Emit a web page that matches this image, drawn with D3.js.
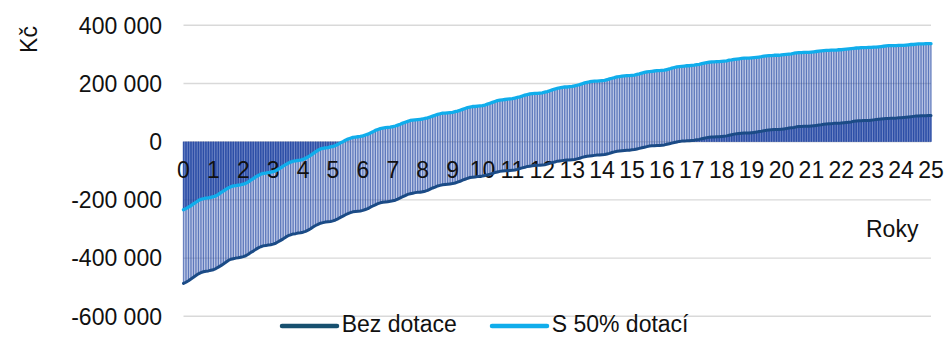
<!DOCTYPE html>
<html><head><meta charset="utf-8">
<script src="https://cdn.jsdelivr.net/npm/d3@7"></script>
<style>html,body{margin:0;padding:0;background:#fff;}svg{display:block;}</style>
</head><body>
<svg id="chart" width="947" height="337"></svg>
<script>
// Values in thousands of Kč, monthly points (year 0 .. year 25)
const UNIT = 1000;
const bezDotace = [
-487,-483,-478,-472,-466,-460,-454,-450,-447,-445,-444,-442,
-440,-436,-431,-426,-420,-414,-408,-404,-402,-400,-399,-397,
-395,-392,-387,-381,-376,-370,-365,-361,-358,-357,-355,-354,
-352,-349,-344,-339,-334,-328,-323,-320,-317,-316,-314,-313,
-311,-308,-304,-299,-293,-288,-284,-280,-278,-276,-275,-274,
-272,-269,-265,-260,-256,-251,-247,-244,-241,-240,-239,-238,
-236,-233,-230,-225,-221,-217,-213,-210,-208,-207,-206,-205,
-203,-201,-197,-193,-189,-185,-181,-179,-177,-175,-174,-174,
-172,-170,-167,-163,-159,-156,-152,-150,-148,-147,-146,-145,
-144,-142,-139,-136,-132,-129,-126,-123,-122,-121,-120,-119,
-118,-116,-114,-112,-109,-106,-104,-102,-101,-100,-100,-99,
-98,-97,-95,-92,-90,-88,-85,-84,-83,-82,-81,-81,
-80,-79,-77,-74,-72,-70,-67,-66,-65,-64,-63,-63,
-62,-61,-59,-57,-54,-52,-50,-49,-48,-47,-46,-46,
-45,-44,-42,-40,-37,-35,-33,-32,-31,-30,-29,-29,
-28,-27,-25,-23,-21,-19,-17,-15,-14,-14,-13,-13,
-12,-11,-9,-7,-5,-3,-1,1,2,2,3,3,
4,5,7,8,10,12,14,15,16,16,17,17,
18,19,20,22,24,26,27,28,29,30,30,30,
31,32,33,35,36,38,39,40,41,42,42,42,
43,44,45,47,48,49,51,52,52,53,53,53,
54,55,56,57,58,60,61,62,62,63,63,63,
64,65,66,67,68,70,71,72,72,73,73,73,
74,75,76,77,78,79,80,80,81,81,81,82,
82,83,84,85,86,87,88,88,89,89,89,90,
90];
const s50Dotaci = [
-234,-230,-225,-220,-214,-208,-202,-198,-196,-194,-193,-191,
-189,-186,-181,-175,-170,-164,-159,-155,-152,-151,-149,-148,
-146,-143,-138,-132,-127,-121,-116,-112,-109,-108,-106,-105,
-103,-100,-95,-90,-84,-79,-74,-70,-67,-66,-64,-63,
-61,-57,-52,-47,-41,-35,-29,-25,-23,-21,-20,-18,
-16,-13,-9,-4,0,5,9,12,15,16,17,18,
20,23,26,30,34,39,42,45,47,48,49,50,
52,54,57,60,64,67,70,73,74,75,76,77,
78,80,82,85,88,91,94,96,98,98,99,100,
101,103,105,108,111,114,117,119,121,121,122,123,
124,126,129,132,135,138,141,143,144,145,146,147,
148,150,152,154,157,160,162,164,165,166,166,167,
168,170,172,175,178,181,183,185,187,188,188,189,
190,192,194,196,199,202,204,206,207,208,208,209,
210,211,213,216,218,220,223,224,225,226,227,227,
228,229,231,233,236,238,240,241,242,243,244,244,
245,246,248,250,253,255,257,258,259,260,261,261,
262,263,265,266,268,270,272,273,274,274,275,275,
276,277,278,280,281,283,284,285,286,287,287,287,
288,289,290,291,292,294,295,296,296,297,297,297,
298,299,300,301,302,304,305,306,306,307,307,307,
308,309,310,311,312,313,314,314,315,315,315,316,
316,317,318,319,320,321,322,322,323,323,323,324,
324,325,325,326,327,328,329,330,330,330,330,331,
331,331,332,333,334,334,335,336,336,336,337,337,
337];
const roky = [0,1,2,3,4,5,6,7,8,9,10,11,12,13,14,15,16,17,18,19,20,21,22,23,24,25];
const yTicks = [-600000,-400000,-200000,0,200000,400000];
const seriesNames = ["Bez dotace","S 50% dotací"];
const seriesColors = ["#1b4b86","#10adeb"];
const legendColors = ["#17506f","#10adeb"];
const monthsPerYear = 12;

const FONT = "'Liberation Sans', Arial, sans-serif";
const svg = d3.select("#chart");
const x = d3.scaleLinear().domain([0, (roky.length-1)*monthsPerYear]).range([183.5, 931]);
const y = d3.scaleLinear().domain([-600000, 400000]).range([316.3, 25.3]);
const fmt = d3.formatLocale({decimal:",", thousands:"\u00a0", grouping:[3], currency:["",""], minus:"-"}).format(",");

// gridlines
svg.append("g").selectAll("line").data(yTicks).join("line")
  .attr("x1", x.range()[0]).attr("x2", x.range()[1])
  .attr("y1", d => y(d)).attr("y2", d => y(d))
  .attr("stroke", "#d9d9d9").attr("stroke-width", 1.4);

// y labels
svg.append("g").selectAll("text").data(yTicks).join("text")
  .attr("x", 162).attr("y", d => y(d) + 8.2)
  .attr("text-anchor", "end").attr("font-family", FONT).attr("font-size", 23).attr("fill", "#111")
  .text(d => fmt(d));

// drop areas + drop lines
const seriesData = [bezDotace, s50Dotaci];
const dropG = svg.append("g");
seriesData.forEach(arr => {
  const area = d3.area().x((d,i) => x(i)).y0(y(0)).y1(d => y(d*UNIT));
  dropG.append("path").attr("d", area(arr)).attr("fill", "#3556b2").attr("fill-opacity", 0.3);
  dropG.append("g").selectAll("line").data(arr).join("line")
    .attr("x1", (d,i) => x(i)).attr("x2", (d,i) => x(i))
    .attr("y1", y(0)).attr("y2", d => y(d*UNIT))
    .attr("stroke", "#1f43a0").attr("stroke-width", 1.3).attr("stroke-opacity", 0.62);
});
// where both series' drop lines overlap (same side of zero) the drawing is denser
const overlap = bezDotace.map((v, i) => {
  const w = s50Dotaci[i];
  if (v < 0 && w < 0) return Math.max(v, w);
  if (v > 0 && w > 0) return Math.min(v, w);
  return 0;
});
dropG.append("path")
  .attr("d", d3.area().x((d,i) => x(i)).y0(y(0)).y1(d => y(d*UNIT))(overlap))
  .attr("fill", "#1f43a0").attr("fill-opacity", 0.35);

// x labels
svg.append("g").selectAll("text").data(roky).join("text")
  .attr("x", d => x(d*monthsPerYear)).attr("y", 178)
  .attr("text-anchor", "middle").attr("font-family", FONT).attr("font-size", 23).attr("fill", "#111")
  .text(d => d);

// lines
const line = d3.line().x((d,i) => x(i)).y(d => y(d*UNIT));
seriesData.forEach((arr, k) => {
  svg.append("path").attr("d", line(arr)).attr("fill", "none")
    .attr("stroke", seriesColors[k]).attr("stroke-width", k === 1 ? 3.3 : 3).attr("stroke-linejoin", "round").attr("stroke-linecap", "round");
});

// axis titles
svg.append("text").attr("transform", "translate(37,39.5) rotate(-90)")
  .attr("text-anchor", "middle").attr("font-family", FONT).attr("font-size", 23).attr("fill", "#111").text("Kč");
svg.append("text").attr("x", 866).attr("y", 237)
  .attr("font-family", FONT).attr("font-size", 23).attr("fill", "#111").text("Roky");

// legend
const legendPos = [{x1:282, x2:337, tx:341.7}, {x1:492, x2:547, tx:551.7}];
seriesNames.forEach((name, k) => {
  const p = legendPos[k];
  svg.append("line").attr("x1", p.x1).attr("x2", p.x2).attr("y1", 326).attr("y2", 326)
    .attr("stroke", legendColors[k]).attr("stroke-width", 4.5).attr("stroke-linecap", "round");
  svg.append("text").attr("x", p.tx).attr("y", 332.3)
    .attr("font-family", FONT).attr("font-size", 23).attr("fill", "#111").text(name);
});
</script>
</body></html>
